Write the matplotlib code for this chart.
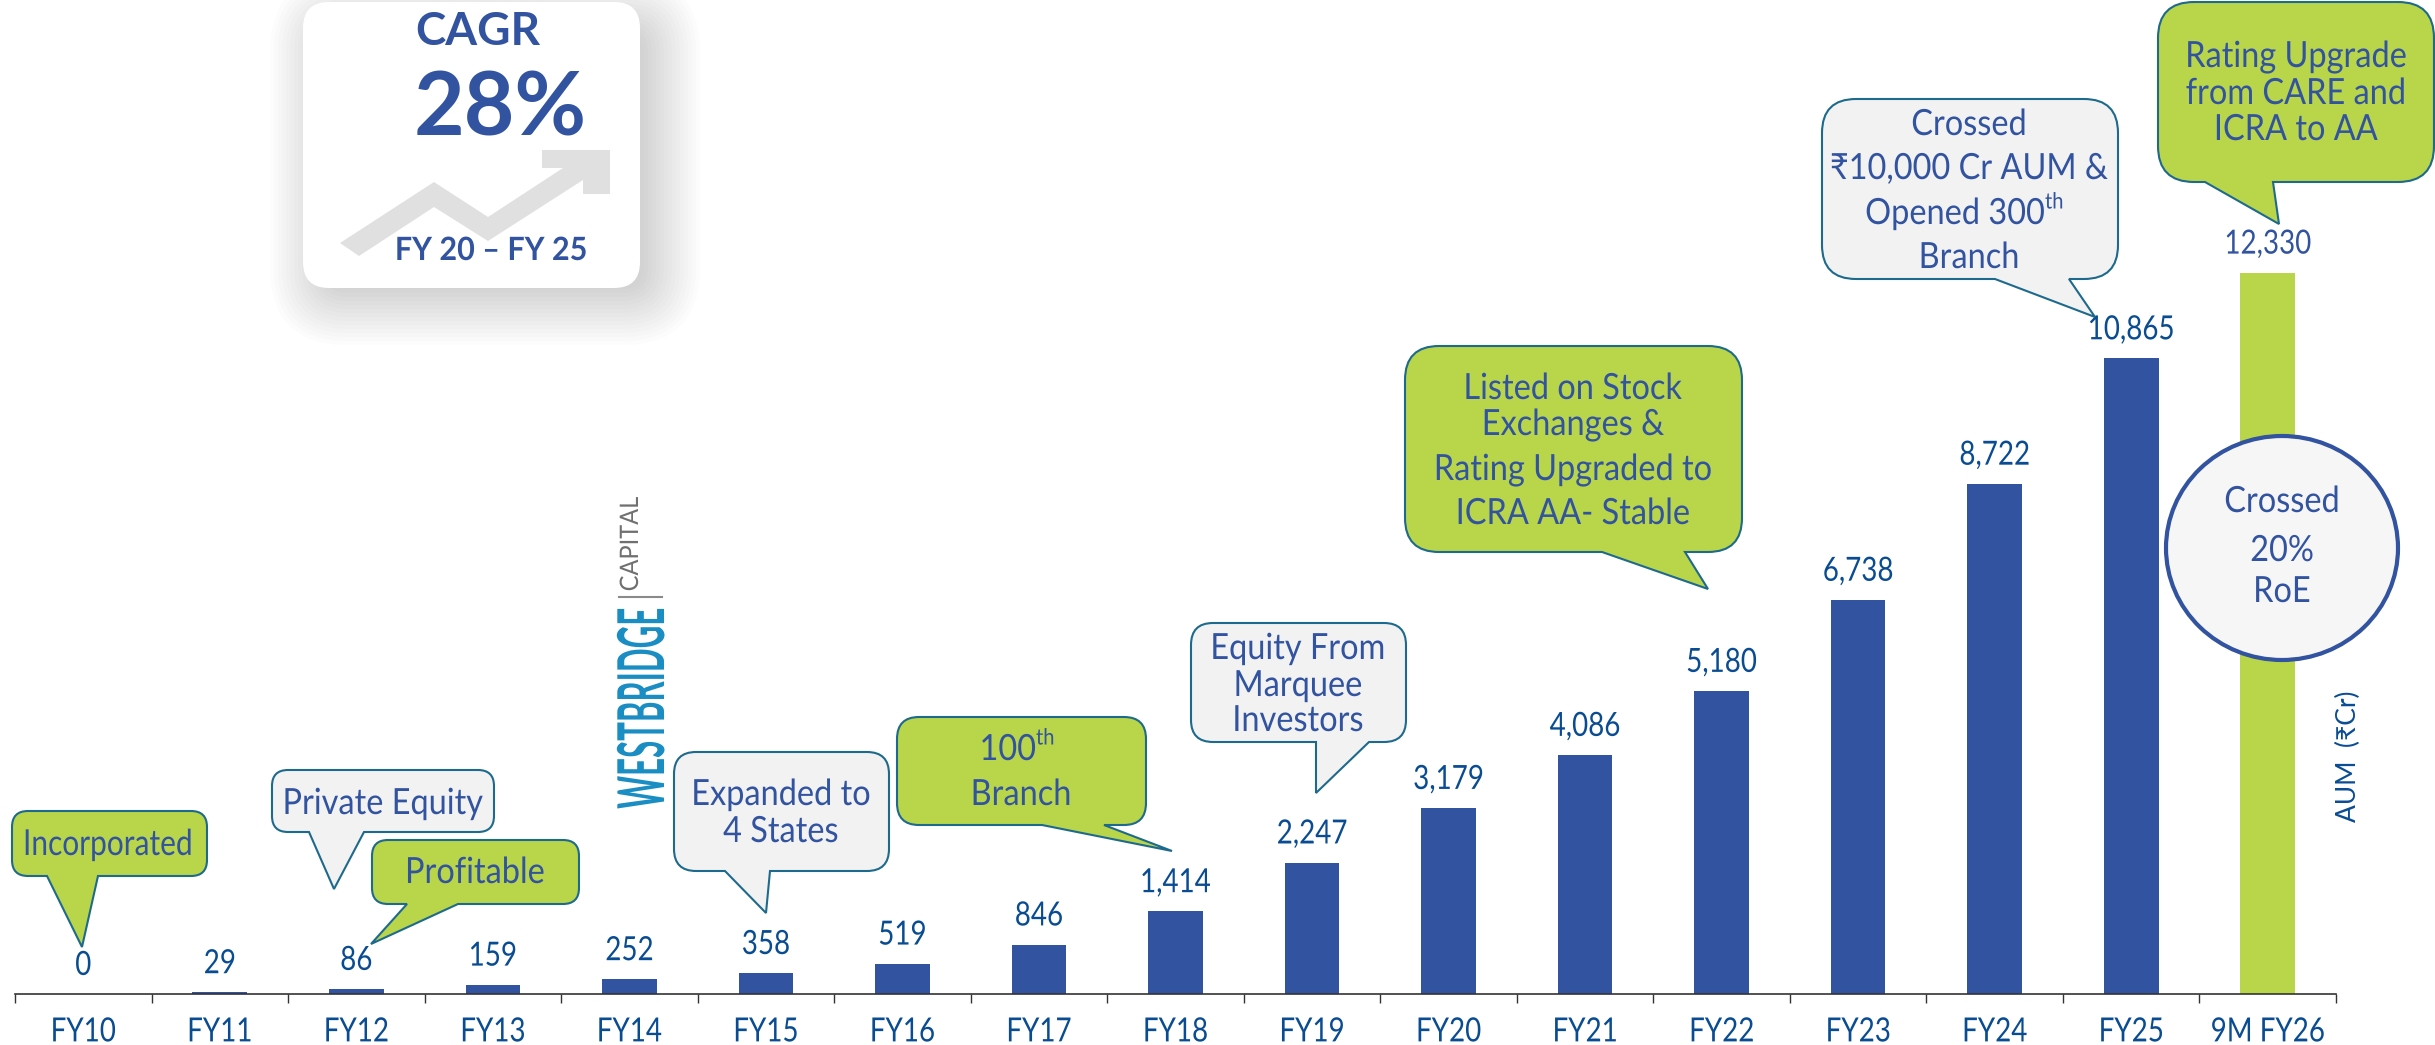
import matplotlib
matplotlib.use('Agg')
import matplotlib.pyplot as plt
from matplotlib.patches import Ellipse, FancyBboxPatch, PathPatch, Polygon
from matplotlib.path import Path
from matplotlib.patheffects import AbstractPathEffect
from matplotlib.transforms import Affine2D

WIDTH, HEIGHT = 2435, 1045
BASE_Y = 994
AXIS_L, AXIS_R = 15, 2336

years = ['FY10', 'FY11', 'FY12', 'FY13', 'FY14', 'FY15', 'FY16', 'FY17', 'FY18',
         'FY19', 'FY20', 'FY21', 'FY22', 'FY23', 'FY24', 'FY25', '9M FY26']
aum = [0, 29, 86, 159, 252, 358, 519, 846, 1414,
       2247, 3179, 4086, 5180, 6738, 8722, 10865, 12330]

BLUE = '#3253A0'
DARK_BLUE = '#0A4C92'
LIME = '#B9D54A'
PALE = '#F2F2F2'
EDGE = '#1D6A8C'

plt.rcParams['font.family'] = ['Lato', 'DejaVu Sans']


class Stretch(AbstractPathEffect):
    # reshapes glyphs: sx about the middle of the line, sy about the baseline
    def __init__(self, sx=1.0, sy=1.0):
        super().__init__()
        self.sx = sx
        self.sy = sy

    def draw_path(self, renderer, gc, tpath, affine, rgbFace=None):
        xs = tpath.vertices[:, 0]
        mid = (xs.min() + xs.max()) / 2
        shape = Affine2D().translate(-mid, 0).scale(self.sx, self.sy).translate(mid, 0)
        renderer.draw_path(gc, tpath, shape + affine, rgbFace)


def callout(ax, box, tail, tip, fill, r=22):
    x0, y0, x1, y1 = box
    a, b = tail
    verts = [(x0 + r, y0), (x1 - r, y0), (x1, y0), (x1, y0 + r),
             (x1, y1 - r), (x1, y1), (x1 - r, y1),
             (b, y1), tip, (a, y1),
             (x0 + r, y1), (x0, y1), (x0, y1 - r),
             (x0, y0 + r), (x0, y0), (x0 + r, y0), (x0 + r, y0)]
    codes = [Path.MOVETO, Path.LINETO, Path.CURVE3, Path.CURVE3,
             Path.LINETO, Path.CURVE3, Path.CURVE3,
             Path.LINETO, Path.LINETO, Path.LINETO,
             Path.LINETO, Path.CURVE3, Path.CURVE3,
             Path.LINETO, Path.CURVE3, Path.CURVE3, Path.CLOSEPOLY]
    ax.add_patch(PathPatch(Path(verts, codes), fc=fill, ec=EDGE, lw=1.5, joinstyle='miter'))


def lines(ax, x, ys, texts, size=23.4, sy=1.11):
    for y, t in zip(ys, texts):
        ax.text(x, y + 3, t, color=BLUE, fontsize=size, ha='center', va='center',
                path_effects=[Stretch(sy=sy)])


def with_th(ax, x, y, t, size=23.4, sy=1.11):
    # number followed by a raised "th"
    ax.text(x, y + 3, t, color=BLUE, fontsize=size, ha='right', va='center',
            path_effects=[Stretch(sy=sy)])
    ax.text(x, y - 9, 'th', color=BLUE, fontsize=size * 0.62, ha='left', va='center',
            path_effects=[Stretch(sy=sy)])


fig = plt.figure(figsize=(WIDTH / 100, HEIGHT / 100), dpi=100)

# bars, in data units
ax = fig.add_axes([AXIS_L / WIDTH, 1 - BASE_Y / HEIGHT, (AXIS_R - AXIS_L) / WIDTH, BASE_Y / HEIGHT])
ax.patch.set_alpha(0)
colors = [BLUE] * (len(years) - 1) + [LIME]
pos = list(range(len(years)))
bars = ax.bar(pos, aum, width=0.4, color=colors)
ax.set_xlim(-0.5, len(years) - 0.5)
ax.set_ylim(0, BASE_Y / 0.0585)
for s in ['top', 'left', 'right']:
    ax.spines[s].set_visible(False)
ax.spines['bottom'].set_color('#333333')
ax.spines['bottom'].set_linewidth(1.2)
ax.set_yticks([])
ax.set_xticks(pos)
ax.set_xticklabels(years, fontsize=20, color=DARK_BLUE)
ax.tick_params(axis='x', which='major', length=0, pad=19)
ax.set_xticks([p - 0.5 for p in pos] + [len(years) - 0.5], minor=True)
ax.tick_params(axis='x', which='minor', length=6.5, width=1, color='#333333')
for label in ax.get_xticklabels():
    label.set_path_effects([Stretch(sy=1.2)])

for p, v in zip(pos, aum):
    label_color = BLUE if p == len(aum) - 1 else DARK_BLUE
    ax.annotate(f'{v:,}', (p, v), xytext=(0, 19.5), textcoords='offset points',
                ha='center', va='center', fontsize=20, color=label_color,
                path_effects=[Stretch(sy=1.2)])

# shapes and notes, in pixels of the figure
over = fig.add_axes([0, 0, 1, 1], zorder=5)
over.set_xlim(0, WIDTH)
over.set_ylim(HEIGHT, 0)
over.axis('off')

# CAGR card with a soft shadow
for grow in range(60, 0, -4):
    over.add_patch(FancyBboxPatch((330 - grow, 35 - grow), 310 + 2 * grow, 250 + 2 * grow,
                                  boxstyle=f'round,pad=0,rounding_size={18 + grow}',
                                  fc='#707070', ec='none', alpha=0.02))
over.add_patch(FancyBboxPatch((303, 2), 337, 286, boxstyle='round,pad=0,rounding_size=26',
                              fc='white', ec='none'))
arrow = [(340, 243), (434, 182), (488, 217), (563, 168), (542, 168), (542, 150), (610, 150),
         (610, 194), (583, 194), (583, 180), (488, 241), (434, 207), (359, 256)]
over.add_patch(Polygon(arrow, closed=True, fc='#E0E0E0', ec='none'))
over.text(478, 32, 'CAGR', color=BLUE, fontsize=33, fontweight='bold', ha='center', va='center')
over.text(500, 110, '28%', color=BLUE, fontsize=63, fontweight='bold', ha='center', va='center')
over.text(491, 251, 'FY 20 – FY 25', color=BLUE, fontsize=22, fontweight='bold', ha='center', va='center',
          path_effects=[Stretch(sy=1.05)])

# vertical logo
over.text(664, 708, 'WESTBRIDGE', color='#1A8DC2', fontsize=25, fontweight='bold', rotation=90,
          ha='center', va='baseline', rotation_mode='anchor', path_effects=[Stretch(sx=0.9, sy=1.86)])
over.plot([619, 662], [597, 597], color='#8A8A8A', lw=1.5)
over.text(638, 544, 'CAPITAL', color='#707070', fontsize=17, rotation=90,
          ha='center', va='baseline', rotation_mode='anchor', path_effects=[Stretch(sy=1.08)])

callout(over, (12, 811, 207, 876), (47, 98), (82, 947), LIME, r=16)
lines(over, 108, [843], ['Incorporated'], size=21.5, sy=1.2)

callout(over, (272, 770, 494, 832), (309, 364), (334, 889), PALE, r=16)
lines(over, 383, [802], ['Private Equity'])

callout(over, (372, 840, 579, 904), (407, 458), (371, 944), LIME, r=16)
lines(over, 475, [871], ['Profitable'])

callout(over, (674, 752, 889, 871), (725, 770), (766, 913), PALE)
lines(over, 781, [793, 830], ['Expanded to', '4 States'])

callout(over, (897, 717, 1146, 825), (1042, 1104), (1172, 851), LIME)
with_th(over, 1036, 748, '100')
lines(over, 1021, [793], ['Branch'])

callout(over, (1191, 623, 1406, 742), (1316, 1369), (1316, 793), PALE)
lines(over, 1298, [647, 684, 719], ['Equity From', 'Marquee', 'Investors'])

callout(over, (1405, 346, 1742, 552), (1602, 1685), (1708, 589), LIME, r=34)
lines(over, 1573, [387, 423, 468, 512],
      ['Listed on Stock', 'Exchanges &', 'Rating Upgraded to', 'ICRA AA- Stable'])

callout(over, (1822, 99, 2118, 279), (1995, 2069), (2095, 317), PALE, r=34)
lines(over, 1969, [123, 167, 256], ['Crossed', '₹10,000 Cr AUM &', 'Branch'])
with_th(over, 2045, 212, 'Opened 300')

callout(over, (2158, 2, 2434, 182), (2205, 2273), (2279, 224), LIME, r=36)
lines(over, 2296, [55, 92, 128], ['Rating Upgrade', 'from CARE and', 'ICRA to AA'])

over.add_patch(Ellipse((2282, 548), 232, 224, fc='#F6F6F6', ec=BLUE, lw=3))
lines(over, 2282, [500, 549, 590], ['Crossed', '20%', 'RoE'])

over.text(2348, 756, 'AUM  (₹Cr)', color=DARK_BLUE, fontsize=19, rotation=90, ha='center', va='center')

fig.savefig('out.png', dpi=100)
